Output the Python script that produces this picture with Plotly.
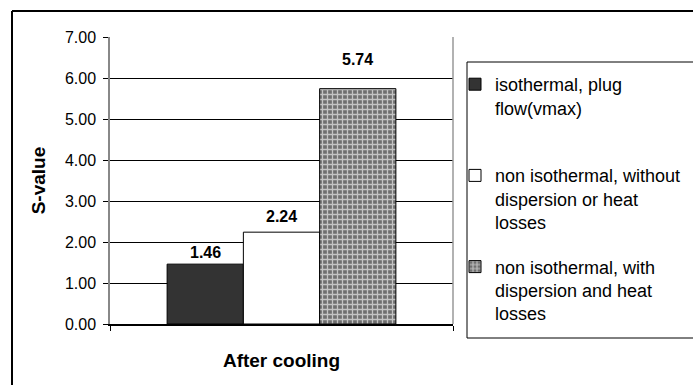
import plotly.graph_objects as go

categories = ["After cooling"]
series_names = [
    "isothermal, plug<br>flow(vmax)<br>&nbsp;",
    "non isothermal, without<br>dispersion or heat<br>losses",
    "non isothermal, with<br>dispersion and heat<br>losses",
]
series_values = [[1.46], [2.24], [5.74]]
label_texts = ["1.46", "2.24", "5.74"]
y_ticks = [0, 1, 2, 3, 4, 5, 6, 7]

fill_colors = ["#333333", "#ffffff", "#8e8e8e"]
label_shift = [1, 5, 19]

W, H = 693, 385
L, R, T, B = 110, 240, 37, 61
pw, ph = W - L - R, H - T - B

def px2x(px):
    return (px - L) / pw

def py2y(py):
    return (H - B - py) / ph

fig = go.Figure()
for i, (name, vals) in enumerate(zip(series_names, series_values)):
    marker = dict(color=fill_colors[i], line=dict(color="#000000", width=1))
    if i == 2:
        marker["pattern"] = dict(shape="+", fgcolor="#c4c4c4", bgcolor="#6f6f6f",
                                 size=5, solidity=0.45, fillmode="replace")
    fig.add_trace(go.Bar(x=categories, y=vals, name=name, marker=marker,
                         legendgroup=f"g{i}", hoverinfo="skip"))
    fig.add_annotation(x=categories[0], y=vals[0], text=f"<b>{label_texts[i]}</b>",
                       showarrow=False, yanchor="bottom", yshift=label_shift[i],
                       xshift=(i - 1) * pw * (1 - 0.333) / 3,
                       font=dict(family="Liberation Sans, Arial", size=16, color="#000"))

def hline(x0, x1, y, w):
    fig.add_shape(type="line", xref="paper", yref="paper",
                  x0=px2x(x0), x1=px2x(x1), y0=py2y(y), y1=py2y(y),
                  line=dict(color="#000000", width=w))

def vline(x, y0, y1, w):
    fig.add_shape(type="line", xref="paper", yref="paper",
                  x0=px2x(x), x1=px2x(x), y0=py2y(y0), y1=py2y(y1),
                  line=dict(color="#000000", width=w))

# outer chart border (left, top; right/bottom fall outside the picture)
hline(12, 693, 11, 2)
vline(12, 11, 385, 2)
# legend border
hline(467, 693, 62, 1)
hline(467, 693, 338, 1)
vline(467, 62, 338, 1)
# plot area right border (gray)
fig.add_shape(type="line", xref="paper", yref="paper", x0=1, x1=1, y0=0, y1=1,
              line=dict(color="#999999", width=1.5))

fig.update_layout(
    width=W, height=H,
    margin=dict(l=L, r=R, t=T, b=B, autoexpand=False),
    paper_bgcolor="white", plot_bgcolor="white",
    barmode="group", bargap=0.333, bargroupgap=0,
    font=dict(family="Liberation Sans, Arial", color="#000"),
    showlegend=True,
    legend=dict(x=px2x(455), xanchor="left", y=py2y(66), yanchor="top",
                bgcolor="rgba(0,0,0,0)", borderwidth=0,
                font=dict(size=18, family="Liberation Sans, Arial"),
                tracegroupgap=18, traceorder="grouped", valign="top"),
    xaxis=dict(showline=True, linecolor="#000", linewidth=1.5,
               ticks="outside", tickson="boundaries", ticklen=5, tickcolor="#000",
               tickfont=dict(size=19, family="Liberation Sans, Arial"),
               ticklabelstandoff=18, tickprefix="<b>", ticksuffix="</b>",
               showgrid=False, fixedrange=True),
    yaxis=dict(range=[0, 7], tickvals=y_ticks, tickformat=".2f",
               showline=True, linecolor="#888888", linewidth=1.5,
               ticks="outside", ticklen=5, tickcolor="#000",
               ticklabelstandoff=4,
               showgrid=True, gridcolor="#000000", gridwidth=1,
               tickfont=dict(size=16, family="Liberation Sans, Arial"),
               title=dict(text="<b>S-value</b>", font=dict(size=19, family="Liberation Sans, Arial"),
                          standoff=14),
               zeroline=False, fixedrange=True),
)

fig.write_html("out.html", config={"displayModeBar": False})
